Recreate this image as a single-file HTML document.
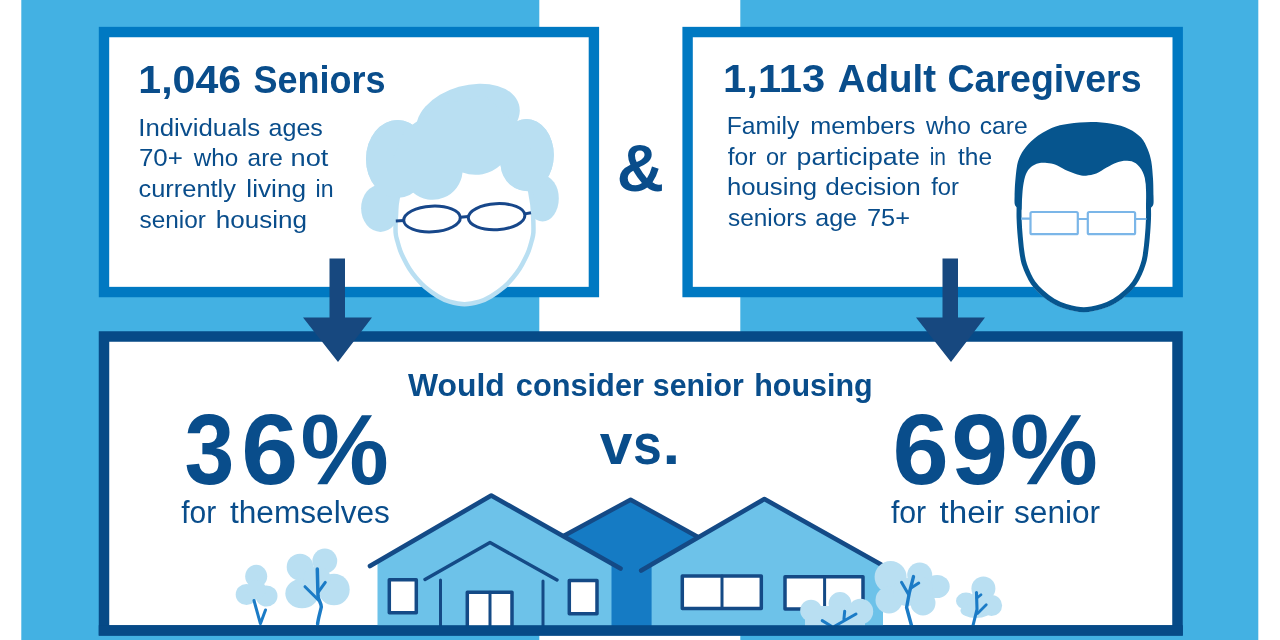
<!DOCTYPE html>
<html lang="en">
<head>
<meta charset="utf-8">
<title>Senior housing survey infographic</title>
<style>
html,body{margin:0;padding:0;background:#fff;}
body{width:1280px;height:640px;overflow:hidden;}
svg{display:block;}
text{font-family:"Liberation Sans",Arial,sans-serif;fill:#094d8b;}
.b{font-weight:bold;}
</style>
</head>
<body>
<svg width="1280" height="640" viewBox="0 0 1280 640">
<!-- background panels -->
<rect x="0" y="0" width="1280" height="640" fill="#ffffff"/>
<rect x="21.3" y="0" width="518" height="640" fill="#43b1e3"/>
<rect x="740.3" y="0" width="518" height="640" fill="#43b1e3"/>

<!-- top boxes -->
<rect x="104" y="32.05" width="489.9" height="260" fill="#ffffff" stroke="#0079c2" stroke-width="10.4"/>
<rect x="687.6" y="32.05" width="490.1" height="260" fill="#ffffff" stroke="#0079c2" stroke-width="10.4"/>

<!-- bottom box -->
<rect x="104" y="336.5" width="1073.5" height="294" fill="#ffffff" stroke="#064a87" stroke-width="10.5"/>

<!-- HOUSES -->
<g id="houses" stroke-linecap="round" stroke-linejoin="round">
  <!-- middle (dark) house -->
  <path d="M563,536.5 L630.6,499.7 L698.5,537.5 L698.5,626 L563,626 Z" fill="#157bc4"/>
  <path d="M564,535.7 L630.6,499.7 L697.5,536.7" fill="none" stroke="#144a86" stroke-width="4.4"/>
  <!-- left house body -->
  <path d="M377.5,626 L377.5,561.5 L491.25,495.5 L611.5,563.5 L611.5,626 Z" fill="#6dc2e9"/>
  <path d="M370,566 L491.25,495.5 L620.5,568.5" fill="none" stroke="#144a86" stroke-width="4.6"/>
  <path d="M425,579.5 L490,542.5 L557,580" fill="none" stroke="#144a86" stroke-width="3.4"/>
  <path d="M440.5,580 L440.5,626 M543,581 L543,626" fill="none" stroke="#144a86" stroke-width="3"/>
  <rect x="389.3" y="579.8" width="27" height="33" fill="#fff" stroke="#144a86" stroke-width="3.5"/>
  <rect x="569.3" y="580.5" width="27.7" height="33.2" fill="#fff" stroke="#144a86" stroke-width="3.5"/>
  <path d="M467.3,626 L467.3,592.3 L512,592.3 L512,626" fill="#fff" stroke="#144a86" stroke-width="3.5"/>
  <path d="M490,592.3 L490,626" fill="none" stroke="#144a86" stroke-width="3"/>
  <!-- right house body -->
  <path d="M651.6,626 L651.6,564 L764.4,499.5 L883,566 L883,626 Z" fill="#6dc2e9"/>
  <path d="M641.2,570.5 L764.4,499 L881,564.6" fill="none" stroke="#144a86" stroke-width="4.6"/>
  <rect x="682.3" y="576" width="79" height="32.5" fill="#fff" stroke="#144a86" stroke-width="3.5"/>
  <path d="M722,576 L722,608.5" fill="none" stroke="#144a86" stroke-width="3"/>
  <rect x="785" y="576.7" width="78" height="32.4" fill="#fff" stroke="#144a86" stroke-width="3.5"/>
  <path d="M824.6,576.7 L824.6,609" fill="none" stroke="#144a86" stroke-width="3"/>
</g>

<!-- TREES -->
<g id="trees" stroke-linecap="round" stroke-linejoin="round">
  <!-- tree 1 -->
  <g fill="#b9dff2">
    <ellipse cx="256.2" cy="576.3" rx="11" ry="11.5"/>
    <ellipse cx="246.5" cy="594.5" rx="10.8" ry="10.5"/>
    <ellipse cx="266.5" cy="596" rx="11" ry="10.5"/>
    <circle cx="256.5" cy="589.5" r="9.5"/>
  </g>
  <path d="M254,600.5 L260.4,623.7 L265.5,610" fill="none" stroke="#1b7bc6" stroke-width="3"/>
  <!-- tree 2 -->
  <g fill="#b9dff2">
    <circle cx="300" cy="567" r="13.3"/>
    <circle cx="324.8" cy="561" r="12.4"/>
    <ellipse cx="334" cy="589.5" rx="15.7" ry="15.8"/>
    <ellipse cx="302" cy="593.5" rx="16.7" ry="14.7"/>
    <circle cx="317" cy="580" r="14"/>
  </g>
  <path d="M317.3,569 L318,596 C318.5,601 321.5,603 321.3,607 C320,613 318.3,618 317.6,624" fill="none" stroke="#1b7bc6" stroke-width="3.5"/>
  <path d="M305,586.7 L318.6,600.3 M325.3,582.4 L318.3,592" fill="none" stroke="#1b7bc6" stroke-width="3"/>
  <!-- tree 3 -->
  <g fill="#b9dff2">
    <circle cx="890.6" cy="577" r="16"/>
    <circle cx="919.7" cy="575" r="12.5"/>
    <ellipse cx="937" cy="586.5" rx="12.7" ry="11.5"/>
    <circle cx="889" cy="600" r="13.5"/>
    <circle cx="923" cy="603" r="12.5"/>
    <circle cx="907" cy="592" r="14"/>
    <circle cx="921" cy="589" r="12"/>
  </g>
  <path d="M913.5,576.6 L909.4,592.5 L906.6,607.5 L911.5,625.5" fill="none" stroke="#1b7bc6" stroke-width="3.4"/>
  <path d="M901.5,582.2 L908.6,594.6 M918.75,583 L911.4,587.8" fill="none" stroke="#1b7bc6" stroke-width="3"/>
  <!-- tree 4 -->
  <g fill="#b9dff2">
    <circle cx="983.4" cy="588.5" r="12"/>
    <ellipse cx="966" cy="601" rx="10" ry="8.5"/>
    <circle cx="991.5" cy="605.5" r="10.6"/>
    <ellipse cx="976" cy="610.5" rx="15.5" ry="7.5"/>
    <circle cx="980" cy="600" r="10"/>
  </g>
  <path d="M976.5,592.5 L977,609.4 L973,625.5" fill="none" stroke="#1b7bc6" stroke-width="3.1"/>
  <path d="M986.25,604.7 L977.5,613.4 M981,594.75 L976.9,598" fill="none" stroke="#1b7bc6" stroke-width="2.8"/>
  <!-- bush -->
  <g fill="#b9dff2">
    <circle cx="811" cy="610.5" r="10.8"/>
    <circle cx="840" cy="603.5" r="11.4"/>
    <circle cx="860.5" cy="611.5" r="12.7"/>
    <rect x="805" y="606" width="60" height="20"/>
  </g>
  <path d="M822.2,620.6 L831,626 M856,614 L835,626 M844.7,611.25 L843.9,619.5" fill="none" stroke="#1b7bc6" stroke-width="3"/>
</g>
<!-- re-draw bottom border over houses/trees -->
<rect x="98.75" y="625.2" width="1084.1" height="10.3" fill="#064a87"/>

<!-- arrows -->
<g fill="#17487f">
  <path d="M329.5,258.5 H345 V317.5 H372 L338,362 L303,317.5 H329.5 Z"/>
  <path d="M942.5,258.5 H958 V317.5 H985 L951,362 L916,317.5 H942.5 Z"/>
</g>

<!-- SENIOR (woman) -->
<g id="senior">
  <g fill="#b9dff2">
    <ellipse cx="397.6" cy="159" rx="31.6" ry="39"/>
    <ellipse cx="380.5" cy="208.3" rx="19.4" ry="23.6"/>
    <ellipse cx="542.6" cy="198.4" rx="16.2" ry="23"/>
    <ellipse cx="526.5" cy="155" rx="27.3" ry="36"/>
  </g>
  <path id="sface" d="M464.4,138.0 C452.9,138.0 439.9,140.7 430.0,146.0 C420.1,151.3 410.4,161.2 405.0,170.0 C399.6,178.8 399.0,191.7 397.5,199.0 C396.0,206.3 396.4,208.2 396.1,213.8 C395.7,219.3 395.4,227.9 395.6,232.5 C395.9,237.1 396.7,238.5 397.5,241.5 C398.3,244.5 399.1,247.5 400.2,250.5 C401.3,253.5 402.8,256.6 404.3,259.6 C405.8,262.7 407.4,265.7 409.4,268.8 C411.4,271.9 413.7,275.0 416.3,278.0 C418.9,281.0 421.4,284.0 425.0,287.0 C428.6,290.0 433.7,293.8 437.8,296.2 C441.9,298.6 445.2,300.4 449.6,301.7 C454.1,303.0 459.5,304.2 464.5,304.2 C469.5,304.2 474.9,303.0 479.4,301.7 C483.8,300.4 487.1,298.6 491.2,296.2 C495.3,293.8 500.4,290.0 504.0,287.0 C507.6,284.0 510.1,281.0 512.7,278.0 C515.3,275.0 517.6,271.9 519.6,268.8 C521.6,265.7 523.2,262.7 524.7,259.6 C526.2,256.6 527.7,253.5 528.8,250.5 C529.9,247.5 530.7,244.5 531.5,241.5 C532.3,238.5 533.1,237.1 533.4,232.5 C533.6,227.9 533.3,219.3 533.0,213.8 C532.6,208.2 533.0,206.3 531.5,199.0 C530.0,191.7 529.4,178.8 524.0,170.0 C518.6,161.2 508.9,151.3 499.0,146.0 C489.1,140.7 475.9,138.0 464.4,138.0 Z" fill="#fff" stroke="#b9dff2" stroke-width="4.5"/>
  <g fill="#b9dff2">
    <ellipse cx="468" cy="119" rx="53" ry="33.5" transform="rotate(-16 468 119)"/>
    <ellipse cx="397.6" cy="159" rx="31.6" ry="39"/>
    <ellipse cx="526.5" cy="155" rx="27.3" ry="36"/>
    <path d="M392,200 L397,198 L413,192.5 A30,30 0 0 0 462.5,172.5 A37,37 0 0 0 500.6,165 A27,27 0 0 0 531,191 L531,150 L508,116 L484,95 L440,105 L405,130 L392,160 Z"/>
  </g>
  <g fill="none" stroke="#17478a" stroke-width="3" stroke-linecap="butt">
    <ellipse cx="432" cy="219" rx="28.3" ry="12.8" transform="rotate(-3 432 219)"/>
    <ellipse cx="496.6" cy="216.7" rx="28.3" ry="13" transform="rotate(-3 496.6 216.7)"/>
    <path d="M460.3,217.2 L468.3,216.6 M395.8,221 L403.8,220.6 M524.8,213.9 L531,212.7"/>
  </g>
</g>

<!-- CAREGIVER (man) -->
<g id="man">
  <clipPath id="mclip"><path d="M1050.0,142.0 C1034.7,143.7 1031.2,147.3 1026.0,152.0 C1020.8,156.7 1020.1,163.7 1018.5,170.0 C1016.9,176.3 1016.9,184.1 1016.6,190.0 C1016.3,195.9 1016.6,200.4 1016.6,205.2 C1016.6,210.0 1016.4,213.4 1016.6,218.8 C1016.8,224.1 1017.2,231.2 1017.8,237.5 C1018.3,243.8 1019.2,251.6 1020.0,256.3 C1020.8,261.0 1021.2,262.5 1022.2,265.6 C1023.2,268.7 1024.5,271.9 1026.0,275.0 C1027.5,278.1 1029.0,281.3 1031.2,284.4 C1033.5,287.5 1036.3,290.7 1039.7,293.8 C1043.1,296.9 1047.7,300.6 1051.9,303.1 C1056.1,305.6 1059.7,307.2 1065.0,308.8 C1070.3,310.3 1077.5,312.3 1083.8,312.3 C1090.1,312.3 1097.3,310.3 1102.6,308.8 C1107.9,307.2 1111.5,305.6 1115.7,303.1 C1119.9,300.6 1124.5,296.9 1127.9,293.8 C1131.3,290.7 1134.1,287.5 1136.3,284.4 C1138.6,281.3 1140.1,278.1 1141.6,275.0 C1143.1,271.9 1144.3,268.7 1145.3,265.6 C1146.3,262.5 1146.8,261.0 1147.6,256.3 C1148.3,251.6 1149.3,243.8 1149.8,237.5 C1150.4,231.2 1150.8,224.1 1151.0,218.8 C1151.2,213.4 1151.0,210.0 1151.0,205.2 C1151.0,200.4 1151.3,195.9 1151.0,190.0 C1150.7,184.1 1150.7,176.3 1149.1,170.0 C1147.5,163.7 1146.8,156.7 1141.6,152.0 C1136.3,147.3 1132.9,143.7 1117.6,142.0 C1102.3,140.3 1065.3,140.3 1050.0,142.0 Z"/></clipPath>
  <path id="mface" d="M1050.0,142.0 C1034.7,143.7 1031.2,147.3 1026.0,152.0 C1020.8,156.7 1020.1,163.7 1018.5,170.0 C1016.9,176.3 1016.9,184.1 1016.6,190.0 C1016.3,195.9 1016.6,200.4 1016.6,205.2 C1016.6,210.0 1016.4,213.4 1016.6,218.8 C1016.8,224.1 1017.2,231.2 1017.8,237.5 C1018.3,243.8 1019.2,251.6 1020.0,256.3 C1020.8,261.0 1021.2,262.5 1022.2,265.6 C1023.2,268.7 1024.5,271.9 1026.0,275.0 C1027.5,278.1 1029.0,281.3 1031.2,284.4 C1033.5,287.5 1036.3,290.7 1039.7,293.8 C1043.1,296.9 1047.7,300.6 1051.9,303.1 C1056.1,305.6 1059.7,307.2 1065.0,308.8 C1070.3,310.3 1077.5,312.3 1083.8,312.3 C1090.1,312.3 1097.3,310.3 1102.6,308.8 C1107.9,307.2 1111.5,305.6 1115.7,303.1 C1119.9,300.6 1124.5,296.9 1127.9,293.8 C1131.3,290.7 1134.1,287.5 1136.3,284.4 C1138.6,281.3 1140.1,278.1 1141.6,275.0 C1143.1,271.9 1144.3,268.7 1145.3,265.6 C1146.3,262.5 1146.8,261.0 1147.6,256.3 C1148.3,251.6 1149.3,243.8 1149.8,237.5 C1150.4,231.2 1150.8,224.1 1151.0,218.8 C1151.2,213.4 1151.0,210.0 1151.0,205.2 C1151.0,200.4 1151.3,195.9 1151.0,190.0 C1150.7,184.1 1150.7,176.3 1149.1,170.0 C1147.5,163.7 1146.8,156.7 1141.6,152.0 C1136.3,147.3 1132.9,143.7 1117.6,142.0 C1102.3,140.3 1065.3,140.3 1050.0,142.0 Z" fill="#fff" stroke="#06558e" stroke-width="10" clip-path="url(#mclip)"/>
  <path id="mhair" d="M1016.4,207.0 C1016.1,206.5 1015.0,205.8 1014.7,204.0 C1014.4,202.2 1014.5,200.2 1014.6,196.0 C1014.7,191.8 1014.9,184.4 1015.5,178.7 C1016.1,173.0 1016.6,166.5 1018.0,161.6 C1019.4,156.7 1021.3,153.4 1024.0,149.5 C1026.7,145.6 1029.8,142.0 1034.4,138.4 C1039.0,134.8 1045.9,130.4 1051.6,128.0 C1057.3,125.6 1062.2,124.8 1068.8,123.8 C1075.4,122.8 1083.9,122.0 1091.1,122.0 C1098.2,122.0 1105.4,122.6 1111.7,123.8 C1118.0,124.9 1124.0,126.6 1128.9,128.9 C1133.8,131.2 1137.8,134.1 1141.0,137.5 C1144.2,140.9 1146.1,145.5 1147.8,149.5 C1149.5,153.5 1150.4,156.7 1151.3,161.6 C1152.2,166.5 1152.6,173.0 1153.0,178.7 C1153.4,184.4 1153.4,191.8 1153.5,196.0 C1153.6,200.2 1153.7,202.2 1153.4,204.0 C1153.1,205.8 1152.1,206.5 1151.8,207.0 L1148.2,209.7 C1148.1,208.0 1148.2,203.7 1147.8,199.4 C1147.4,195.1 1146.8,188.5 1146.0,183.9 C1145.2,179.3 1144.4,175.3 1142.7,171.9 C1141.0,168.5 1138.4,165.2 1135.8,163.3 C1133.2,161.4 1130.3,160.8 1127.2,160.7 C1124.1,160.5 1120.3,161.2 1116.9,162.4 C1113.5,163.6 1110.0,165.7 1106.6,167.6 C1103.2,169.5 1099.7,172.2 1096.3,173.6 C1092.9,174.9 1089.2,175.5 1086.0,175.7 C1082.8,175.8 1080.8,175.5 1077.3,174.5 C1073.8,173.5 1068.6,171.3 1065.0,169.7 C1061.4,168.1 1058.6,165.9 1055.6,164.8 C1052.6,163.6 1049.8,163.2 1047.0,163.0 C1044.2,162.8 1041.4,162.7 1038.7,163.3 C1036.0,164.0 1033.1,165.1 1031.0,166.9 C1028.9,168.7 1027.3,170.9 1026.0,173.9 C1024.7,176.9 1023.9,181.2 1023.3,185.0 C1022.7,188.8 1022.5,192.3 1022.2,196.4 C1021.9,200.5 1021.6,207.5 1021.5,209.7 Z" fill="#06558e"/>
  <g fill="none" stroke="#7bb6e8" stroke-width="2.2">
    <rect x="1030.5" y="212" width="47.3" height="22.2" rx="1.5"/>
    <rect x="1087.8" y="212" width="47.3" height="22.2" rx="1.5"/>
    <path d="M1077.8,219 H1087.8 M1021,218.6 H1030.5 M1135,219 H1146.5"/>
  </g>
</g>

<!-- TEXT -->
<text class="b" y="93.1" font-size="38.4" lengthAdjust="spacingAndGlyphs"><tspan x="138.36" textLength="102.79" lengthAdjust="spacingAndGlyphs">1,046</tspan> <tspan x="253.46" textLength="132.00" lengthAdjust="spacingAndGlyphs">Seniors</tspan></text>
<text y="135.75" font-size="24.8" lengthAdjust="spacingAndGlyphs"><tspan x="138.22" textLength="122.00" lengthAdjust="spacingAndGlyphs">Individuals</tspan> <tspan x="268.59" textLength="54.31" lengthAdjust="spacingAndGlyphs">ages</tspan></text>
<text y="166.35" font-size="24.8" lengthAdjust="spacingAndGlyphs"><tspan x="138.96" textLength="43.95" lengthAdjust="spacingAndGlyphs">70+</tspan> <tspan x="193.68" textLength="44.50" lengthAdjust="spacingAndGlyphs">who</tspan> <tspan x="247.62" textLength="35.26" lengthAdjust="spacingAndGlyphs">are</tspan> <tspan x="290.50" textLength="37.88" lengthAdjust="spacingAndGlyphs">not</tspan></text>
<text y="196.95" font-size="24.8" lengthAdjust="spacingAndGlyphs"><tspan x="138.47" textLength="97.51" lengthAdjust="spacingAndGlyphs">currently</tspan> <tspan x="246.34" textLength="59.80" lengthAdjust="spacingAndGlyphs">living</tspan> <tspan x="315.57" textLength="17.97" lengthAdjust="spacingAndGlyphs">in</tspan></text>
<text y="227.55" font-size="24.8" lengthAdjust="spacingAndGlyphs"><tspan x="139.50" textLength="66.35" lengthAdjust="spacingAndGlyphs">senior</tspan> <tspan x="215.75" textLength="91.28" lengthAdjust="spacingAndGlyphs">housing</tspan></text>
<text class="b" y="92.3" font-size="38.4" lengthAdjust="spacingAndGlyphs"><tspan x="723.13" textLength="102.09" lengthAdjust="spacingAndGlyphs">1,113</tspan> <tspan x="837.80" textLength="98.23" lengthAdjust="spacingAndGlyphs">Adult</tspan> <tspan x="947.52" textLength="194.00" lengthAdjust="spacingAndGlyphs">Caregivers</tspan></text>
<text y="134.25" font-size="24.8" lengthAdjust="spacingAndGlyphs"><tspan x="726.76" textLength="72.64" lengthAdjust="spacingAndGlyphs">Family</tspan> <tspan x="810.23" textLength="105.17" lengthAdjust="spacingAndGlyphs">members</tspan> <tspan x="925.98" textLength="44.79" lengthAdjust="spacingAndGlyphs">who</tspan> <tspan x="979.75" textLength="48.03" lengthAdjust="spacingAndGlyphs">care</tspan></text>
<text y="164.85" font-size="24.8" lengthAdjust="spacingAndGlyphs"><tspan x="727.70" textLength="28.66" lengthAdjust="spacingAndGlyphs">for</tspan> <tspan x="766.05" textLength="20.89" lengthAdjust="spacingAndGlyphs">or</tspan> <tspan x="796.62" textLength="123.33" lengthAdjust="spacingAndGlyphs">participate</tspan> <tspan x="929.65" textLength="16.31" lengthAdjust="spacingAndGlyphs">in</tspan> <tspan x="958.00" textLength="34.08" lengthAdjust="spacingAndGlyphs">the</tspan></text>
<text y="195.45" font-size="24.8" lengthAdjust="spacingAndGlyphs"><tspan x="726.96" textLength="90.11" lengthAdjust="spacingAndGlyphs">housing</tspan> <tspan x="825.20" textLength="95.63" lengthAdjust="spacingAndGlyphs">decision</tspan> <tspan x="931.25" textLength="27.75" lengthAdjust="spacingAndGlyphs">for</tspan></text>
<text y="226.05" font-size="24.8" lengthAdjust="spacingAndGlyphs"><tspan x="728.00" textLength="78.64" lengthAdjust="spacingAndGlyphs">seniors</tspan> <tspan x="815.24" textLength="41.81" lengthAdjust="spacingAndGlyphs">age</tspan> <tspan x="866.98" textLength="43.01" lengthAdjust="spacingAndGlyphs">75+</tspan></text>
<text class="b" y="396.4" font-size="31.4" lengthAdjust="spacingAndGlyphs"><tspan x="408.10" textLength="96.69" lengthAdjust="spacingAndGlyphs">Would</tspan> <tspan x="515.82" textLength="128.14" lengthAdjust="spacingAndGlyphs">consider</tspan> <tspan x="652.83" textLength="90.97" lengthAdjust="spacingAndGlyphs">senior</tspan> <tspan x="754.26" textLength="118.48" lengthAdjust="spacingAndGlyphs">housing</tspan></text>
<text y="522.9" font-size="31" lengthAdjust="spacingAndGlyphs"><tspan x="181.25" textLength="34.96" lengthAdjust="spacingAndGlyphs">for</tspan> <tspan x="230.00" textLength="159.91" lengthAdjust="spacingAndGlyphs">themselves</tspan></text>
<text y="522.9" font-size="31" lengthAdjust="spacingAndGlyphs"><tspan x="890.90" textLength="35.32" lengthAdjust="spacingAndGlyphs">for</tspan> <tspan x="939.60" textLength="64.50" lengthAdjust="spacingAndGlyphs">their</tspan> <tspan x="1014.00" textLength="86.08" lengthAdjust="spacingAndGlyphs">senior</tspan></text>
<text class="b" y="484.2" font-size="100" lengthAdjust="spacingAndGlyphs"><tspan x="184.61" textLength="49.83" lengthAdjust="spacingAndGlyphs">3</tspan><tspan x="241.33" textLength="56.86" lengthAdjust="spacingAndGlyphs">6</tspan><tspan x="300.41" textLength="88.29" lengthAdjust="spacingAndGlyphs">%</tspan></text>
<text class="b" y="484.2" font-size="100" lengthAdjust="spacingAndGlyphs"><tspan x="892.46" textLength="56.30" lengthAdjust="spacingAndGlyphs">6</tspan><tspan x="951.33" textLength="56.86" lengthAdjust="spacingAndGlyphs">9</tspan><tspan x="1009.92" textLength="87.87" lengthAdjust="spacingAndGlyphs">%</tspan></text>
<text class="b" y="464" font-size="58" lengthAdjust="spacingAndGlyphs"><tspan x="599.80" textLength="32.66" lengthAdjust="spacingAndGlyphs">v</tspan><tspan x="633.01" textLength="28.80" lengthAdjust="spacingAndGlyphs">s</tspan><tspan x="662.47" textLength="17.65" lengthAdjust="spacingAndGlyphs">.</tspan></text>
<text class="b" y="190.8" font-size="67.3" lengthAdjust="spacingAndGlyphs"><tspan x="616.81" textLength="47.25" lengthAdjust="spacingAndGlyphs">&amp;</tspan></text>
</svg>
</body>
</html>
